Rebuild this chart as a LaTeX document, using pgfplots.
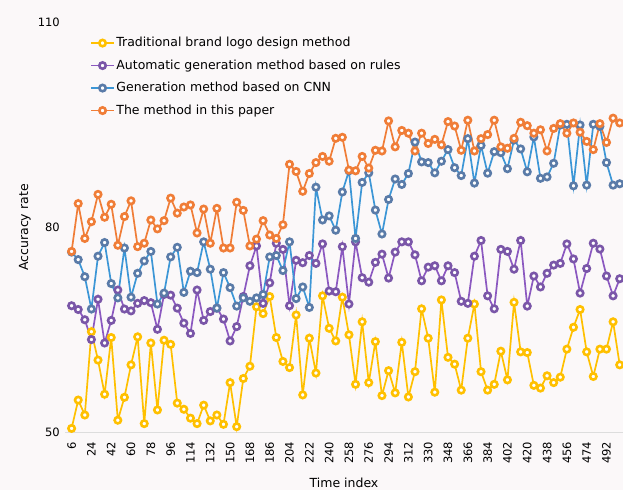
\documentclass[border=0pt]{standalone}
\usepackage{pgfplots}
\pgfplotsset{compat=1.18}
\usepackage{pgfplotstable}
\usepackage{fontspec}
\setmainfont{DejaVu Sans}
\definecolor{cY}{HTML}{FFC000}
\definecolor{cP}{HTML}{8B58C0}
\definecolor{cPm}{HTML}{7A56A8}
\definecolor{cB}{HTML}{3C96D6}
\definecolor{cBm}{HTML}{5A7BA8}
\definecolor{cO}{HTML}{F07D37}
\definecolor{bg}{RGB}{251,248,249}
\pgfplotstableread{
x Y P B O
6 50.6 68.55 76.4 76.5
12 54.75 68.0 75.3 83.5
18 52.56 66.5 72.8 78.4
24 64.75 63.6 68.07 80.85
30 60.6 69.5 75.8 84.85
36 55.6 63.1 77.8 81.5
42 63.9 66.4 71.8 83.4
48 51.8 70.85 69.7 77.4
54 55.15 68.07 77.0 81.6
60 59.9 67.8 69.8 83.9
66 64.0 68.9 73.3 77.2
72 51.3 69.3 75.1 77.7
78 63.1 69.0 76.5 81.1
84 53.3 65.1 68.8 79.8
90 63.5 70.2 70.4 81.0
96 62.9 70.1 75.7 84.3
102 54.3 68.2 77.1 82.1
108 53.4 66.0 70.5 83.0
114 52.1 64.5 73.6 83.3
120 51.3 70.85 73.4 79.2
126 54.0 66.4 77.9 82.7
132 51.7 67.7 73.9 77.7
138 52.56 68.2 68.2 82.8
144 51.2 66.6 73.4 77.0
150 57.3 63.4 71.2 77.0
156 50.85 65.5 68.5 83.7
162 57.9 69.9 69.7 82.5
168 59.7 74.4 69.2 77.3
174 68.4 77.3 69.7 78.3
180 67.4 68.9 70.2 81.0
186 69.9 71.9 75.7 78.9
192 63.9 77.7 75.9 78.4
198 60.4 76.8 73.7 80.4
204 59.5 68.55 77.9 89.25
210 67.2 75.2 69.6 88.2
216 55.5 74.85 71.3 85.3
222 63.8 75.9 68.3 87.9
228 58.7 74.75 85.9 89.5
234 70.0 77.6 81.1 90.4
240 65.25 70.7 81.7 89.7
246 63.4 70.6 79.6 93.05
252 69.8 77.2 85.2 93.2
258 64.3 68.8 88.3 88.4
264 57.05 77.9 78.4 88.3
270 66.2 72.65 86.6 90.4
276 57.3 72.0 88.0 88.7
282 63.3 74.9 82.55 91.3
288 55.4 76.1 79.05 91.2
294 59.05 72.6 84.1 95.6
300 55.8 76.4 87.1 91.8
306 63.2 77.9 86.3 94.2
312 55.2 77.9 87.9 93.8
318 58.9 76.0 92.5 91.2
324 68.1 72.2 89.6 93.8
330 63.8 74.2 89.5 92.3
336 55.9 74.4 88.0 92.9
342 69.4 72.2 89.7 92.1
348 61.0 74.4 91.4 95.5
354 60.0 73.4 88.75 94.85
360 56.2 69.2 87.6 91.3
366 63.8 68.9 93.0 95.7
372 68.8 75.8 86.5 91.2
378 58.9 78.1 92.0 93.0
384 56.2 70.0 87.95 93.6
390 57.05 68.1 91.1 95.7
396 61.9 76.8 90.95 91.8
402 57.7 76.5 88.6 91.6
408 69.05 73.9 92.8 93.05
414 61.8 78.1 91.5 95.4
420 61.7 68.5 88.15 94.9
426 56.9 72.9 93.25 93.8
432 56.5 71.3 87.2 94.3
438 58.3 73.3 87.4 91.2
444 57.3 74.5 89.4 94.5
450 58.1 74.75 95.0 95.2
456 62.2 77.6 95.1 93.8
462 65.4 75.4 86.1 95.3
468 68.0 70.4 95.0 93.95
474 61.8 74.0 86.2 92.6
480 58.2 77.7 95.1 91.4
486 62.2 76.85 94.8 95.2
492 62.2 72.9 89.5 92.45
498 66.2 70.0 86.2 96.0
504 59.9 72.5 86.4 95.3
}\datatable
\begin{document}
\begin{tikzpicture}
\useasboundingbox (0,0) rectangle (623pt,490pt);
\fill[bg] (0,0) rectangle (623pt,490pt);
\begin{axis}[
  at={(65pt,57.5pt)}, anchor=south west,
  scale only axis, width=558pt, height=410pt,
  xmin=0, xmax=507, ymin=50, ymax=110,
  xtick={6,24,...,492}, ytick={50,80,110},
  major tick length=0pt,
  axis x line*=bottom, axis y line*=left,
  x axis line style={draw={rgb,255:red,221;green,221;blue,221}, line width=0.8pt, -},
  y axis line style={draw=none},
  /pgf/number format/assume math mode=true,
  tick label style={font=\fontsize{11.5}{13}\selectfont, text=black},
  xticklabel style={rotate=90, anchor=east, inner sep=0pt},
  xticklabel shift=9pt,
  yticklabel style={inner sep=0pt},
  yticklabel shift=5pt,
  xlabel={Time index}, ylabel={Accuracy rate},
  label style={font=\fontsize{12.5}{14}\selectfont},
  xlabel style={at={(axis description cs:0.5,-0.122)}, anchor=center},
  ylabel style={at={(axis description cs:-0.072,0.5)}, anchor=center, rotate=0},
  legend style={at={(axis description cs:0.0448,0.968)}, anchor=north west,
    draw=none, fill=none, font=\fontsize{12.5}{14}\selectfont, row sep=8pt,
    inner sep=0pt, nodes={inner sep=1.5pt, text depth=2pt}},
  legend cell align=left,
  legend image code/.code={\draw[mark repeat=2,mark phase=2,#1] plot coordinates {(0pt,0pt) (11.5pt,0pt) (23pt,0pt)};},
  every axis plot/.append style={line width=1.7pt, mark=*, mark size=3.2pt},
]
\addplot[cY, mark options={solid, fill=white, draw=cY, /tikz/line width=2.6pt}] table[x=x,y=Y] {\datatable};
\addlegendentry{Traditional brand logo design method}
\addplot[cP, mark options={solid, fill=white, draw=cPm, /tikz/line width=2.6pt}] table[x=x,y=P] {\datatable};
\addlegendentry{Automatic generation method based on rules}
\addplot[cB, mark options={solid, fill=white, draw=cBm, /tikz/line width=2.6pt}] table[x=x,y=B] {\datatable};
\addlegendentry{Generation method based on CNN}
\addplot[cO, mark options={solid, fill=white, draw=cO, /tikz/line width=2.6pt}] table[x=x,y=O] {\datatable};
\addlegendentry{The method in this paper}
\end{axis}
\end{tikzpicture}
\end{document}
